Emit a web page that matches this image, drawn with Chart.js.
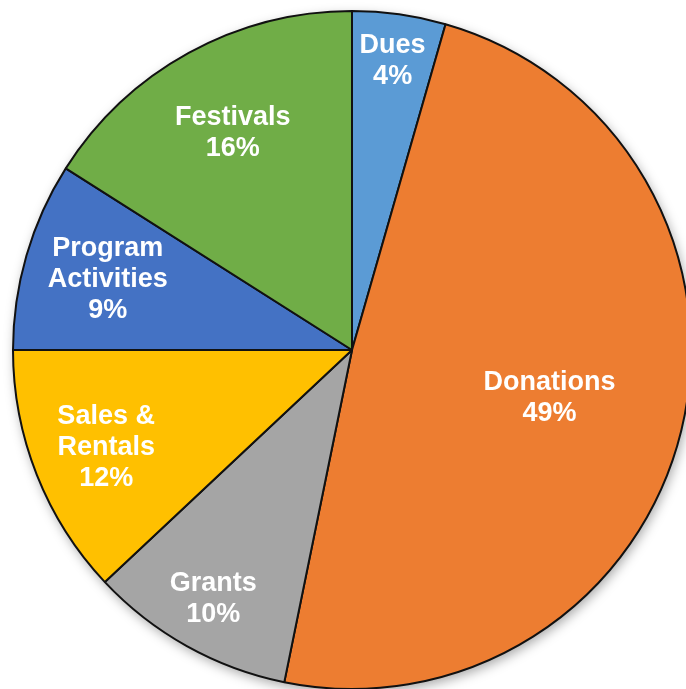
<!DOCTYPE html>
<html>
<head>
<meta charset="utf-8">
<script src="https://cdn.jsdelivr.net/npm/chart.js@4.4.1/dist/chart.umd.min.js"></script>
<style>
  html, body { margin: 0; padding: 0; background: #fff; overflow: hidden; width: 686px; height: 689px; }
  #wrap { position: absolute; left: 0; top: 0; width: 704px; height: 700px; }
</style>
</head>
<body>
<div id="wrap"><canvas id="pieChart"></canvas></div>
<script>
// categories, text lines per label, and shares (percent)
var categories = ['Dues', 'Donations', 'Grants', 'Sales & Rentals', 'Program Activities', 'Festivals'];
var labelLines = [['Dues'], ['Donations'], ['Grants'], ['Sales &', 'Rentals'], ['Program', 'Activities'], ['Festivals']];
var shares = [4.45, 48.75, 9.8, 12.0, 9.0, 16.0];
var sliceColors = ['#5B9BD5', '#ED7D31', '#A5A5A5', '#FFC000', '#4472C4', '#70AD47'];

// how far out (fraction of radius) each label sits
var labelDist = [0.86, 0.6, 0.84, 0.78, 0.75, 0.73];

// soft shadow under the whole pie
var pieShadow = {
    id: 'pieShadow',
    beforeDatasetsDraw: function(chart) {
        var arc = chart.getDatasetMeta(0).data[0];
        if (!arc) return;
        var ctx = chart.ctx;
        ctx.save();
        ctx.shadowColor = 'rgba(0,0,0,0.35)';
        ctx.shadowBlur = 12;
        ctx.shadowOffsetX = 2;
        ctx.shadowOffsetY = 4;
        ctx.fillStyle = '#fff';
        ctx.beginPath();
        ctx.arc(arc.x, arc.y, arc.outerRadius, 0, Math.PI * 2);
        ctx.fill();
        ctx.restore();
    }
};

// white labels inside the slices
var sliceLabels = {
    id: 'sliceLabels',
    afterDatasetsDraw: function(chart) {
        var ctx = chart.ctx;
        var meta = chart.getDatasetMeta(0);
        var lineH = 31;
        ctx.save();
        ctx.fillStyle = '#fff';
        ctx.font = 'bold 27px "Liberation Sans", Arial, sans-serif';
        ctx.textAlign = 'center';
        ctx.textBaseline = 'middle';
        meta.data.forEach(function(arc, i) {
            var mid = (arc.startAngle + arc.endAngle) / 2;
            var r = arc.outerRadius * labelDist[i];
            var cx = arc.x + Math.cos(mid) * r;
            var cy = arc.y + Math.sin(mid) * r;
            var lines = labelLines[i].concat([Math.round(shares[i]) + '%']);
            var top = cy - (lines.length - 1) * lineH / 2;
            lines.forEach(function(t, j) {
                ctx.fillText(t, cx, top + j * lineH);
            });
        });
        ctx.restore();
    }
};

var ctx = document.getElementById('pieChart').getContext('2d');
var myChart = new Chart(ctx, {
    type: 'pie',
    data: {
        labels: categories,
        datasets: [{
            data: shares,
            backgroundColor: sliceColors,
            borderColor: '#111',
            borderWidth: 2
        }]
    },
    options: {
        responsive: true,
        maintainAspectRatio: false,
        animation: false,
        layout: { padding: { left: 12, right: 12, top: 10, bottom: 10 } },
        plugins: {
            legend: { display: false },
            tooltip: { enabled: false }
        }
    },
    plugins: [pieShadow, sliceLabels]
});
</script>
</body>
</html>
